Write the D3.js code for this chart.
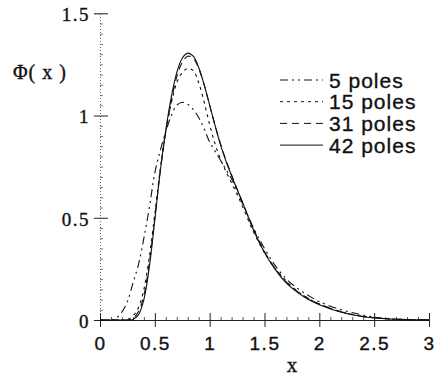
<!DOCTYPE html>
<html>
<head>
<meta charset="utf-8">
<script src="https://cdn.jsdelivr.net/npm/d3@7"></script>
<style>
  body { margin: 0; background: #fff; }
  svg { display: block; }
  .serif { font-family: "Liberation Serif", "DejaVu Serif", serif; }
  .sans { font-family: "Liberation Sans", Arial, sans-serif; }
  text { stroke: #111; stroke-width: 0.35px; }
</style>
</head>
<body>
<script>
// data
const xs = [0, 0.1, 0.15, 0.2, 0.25, 0.3, 0.35, 0.4, 0.45, 0.5, 0.55, 0.6, 0.65, 0.7, 0.75, 0.8, 0.85, 0.9, 0.95, 1.0,
  1.05, 1.1, 1.15, 1.2, 1.25, 1.3, 1.4, 1.5, 1.6, 1.7, 1.8, 1.9, 2.0, 2.2, 2.4, 2.6, 2.8, 3.0];

const poles5 = [0, 0, 0.01, 0.04, 0.09, 0.18, 0.27, 0.40, 0.55, 0.72, 0.83, 0.92, 1.0, 1.05, 1.065, 1.055, 1.03, 0.99, 0.935, 0.87,
  0.825, 0.78, 0.735, 0.69, 0.63, 0.57, 0.45, 0.35, 0.265, 0.20, 0.155, 0.12, 0.09, 0.05, 0.024, 0.007, 0.002, 0];
const poles15 = [0, 0, 0, 0, 0.003, 0.02, 0.06, 0.15, 0.31, 0.52, 0.74, 0.92, 1.06, 1.16, 1.21, 1.23, 1.22, 1.16, 1.065, 0.955,
  0.86, 0.785, 0.725, 0.67, 0.615, 0.555, 0.43, 0.33, 0.25, 0.19, 0.14, 0.105, 0.078, 0.04, 0.018, 0.007, 0.002, 0];
const poles31 = [0, 0, 0, 0, 0, 0.008, 0.04, 0.12, 0.28, 0.50, 0.73, 0.92, 1.07, 1.19, 1.26, 1.29, 1.28, 1.23, 1.15, 1.05,
  0.95, 0.86, 0.78, 0.71, 0.64, 0.575, 0.445, 0.335, 0.25, 0.185, 0.14, 0.105, 0.078, 0.04, 0.017, 0.007, 0.002, 0];
const poles42 = [0, 0, 0, 0, 0, 0.003, 0.025, 0.10, 0.26, 0.49, 0.73, 0.93, 1.09, 1.21, 1.28, 1.305, 1.29, 1.235, 1.15, 1.05,
  0.95, 0.855, 0.775, 0.705, 0.64, 0.575, 0.44, 0.33, 0.245, 0.18, 0.135, 0.10, 0.075, 0.038, 0.016, 0.006, 0.002, 0];

const seriesNames = ["5 poles", "15 poles", "31 poles", "42 poles"];
const seriesValues = [poles5, poles15, poles31, poles42];
const dashes = ["8,4,2,4,2,4", "3,4", "7,5", null];

const xTicks = [0, 0.5, 1, 1.5, 2, 2.5, 3];
const yTicks = [0, 0.5, 1, 1.5];

const w = 438;
const h = 379;

const x = d3.scaleLinear().domain([0, 3]).range([100, 429]);
const y = d3.scaleLinear().domain([0, 1.5]).range([320, 13.3]);

const svg = d3.select("body").append("svg").attr("width", w).attr("height", h);

// ---- y axis ----
const yMinor = d3.range(0, 1.5001, 0.05).filter((v) => Math.abs(v * 2 - Math.round(v * 2)) > 1e-6);

const yLeft = svg.append("g").attr("transform", "translate(100,0)")
  .call(d3.axisLeft(y).tickValues(yTicks).tickSize(6).tickPadding(4)
    .tickFormat((d) => d));
yLeft.select(".domain").attr("stroke", "#666").attr("stroke-dasharray", "1,2");
yLeft.selectAll(".tick line").attr("stroke", "#222");
yLeft.selectAll(".tick text")
  .attr("class", "serif")
  .attr("font-size", 19)
  .attr("letter-spacing", "1.5px")
  .attr("fill", "#111")
  .attr("dy", "0.38em");

const yRight = svg.append("g").attr("transform", "translate(100,0)")
  .call(d3.axisRight(y).tickValues(yTicks).tickSize(8).tickFormat(""));
yRight.select(".domain").remove();
yRight.selectAll(".tick line").attr("stroke", "#222");

const yMin = svg.append("g").attr("transform", "translate(100,0)")
  .call(d3.axisRight(y).tickValues(yMinor).tickSize(3).tickFormat(""));
yMin.select(".domain").remove();
yMin.selectAll(".tick line").attr("stroke", "#777");

// ---- x axis ----
const xMinor = d3.range(0, 3.0001, 0.1).filter((v) => Math.abs(v * 2 - Math.round(v * 2)) > 1e-6);

const xBottom = svg.append("g").attr("transform", "translate(0,320)")
  .call(d3.axisBottom(x).tickValues(xTicks).tickSize(7).tickPadding(10)
    .tickFormat((d) => d));
xBottom.select(".domain").attr("stroke", "#222");
xBottom.selectAll(".tick line").attr("stroke", "#222");
xBottom.selectAll(".tick text")
  .attr("class", "sans")
  .attr("font-size", 19)
  .attr("letter-spacing", "1.5px")
  .attr("fill", "#111");

const xTop = svg.append("g").attr("transform", "translate(0,320)")
  .call(d3.axisTop(x).tickValues(xTicks).tickSize(7).tickFormat(""));
xTop.select(".domain").remove();
xTop.selectAll(".tick line").attr("stroke", "#222");

const xMin = svg.append("g").attr("transform", "translate(0,320)")
  .call(d3.axisTop(x).tickValues(xMinor).tickSize(3).tickFormat(""));
xMin.select(".domain").remove();
xMin.selectAll(".tick line").attr("stroke", "#555");

// axis titles
svg.append("text")
  .attr("class", "serif")
  .attr("x", 13)
  .attr("y", 79)
  .attr("font-size", 20)
  .attr("letter-spacing", "1px")
  .attr("fill", "#111")
  .text("Φ( x )");

svg.append("text")
  .attr("class", "serif")
  .attr("x", x(1.75))
  .attr("y", 372)
  .attr("text-anchor", "middle")
  .attr("font-size", 21)
  .attr("fill", "#111")
  .text("x");

// ---- curves ----
const line = d3.line()
  .x((d) => x(d[0]))
  .y((d) => y(d[1]))
  .curve(d3.curveCatmullRom.alpha(0.5));

seriesValues.forEach(function (vals, i) {
  svg.append("path")
    .datum(xs.map((v, j) => [v, vals[j]]))
    .attr("fill", "none")
    .attr("stroke", "#111")
    .attr("stroke-width", 1.1)
    .attr("stroke-dasharray", dashes[i])
    .attr("d", line);
});

// ---- legend ----
const legend = svg.append("g");
seriesNames.forEach(function (name, i) {
  const ly = 80 + i * 21.7;
  legend.append("line")
    .attr("x1", 280).attr("x2", 323)
    .attr("y1", ly).attr("y2", ly)
    .attr("stroke", "#111")
    .attr("stroke-width", 1)
    .attr("stroke-dasharray", dashes[i]);
  legend.append("text")
    .attr("class", "sans")
    .attr("x", 329)
    .attr("y", ly + 7.5)
    .attr("font-size", 21)
    .attr("letter-spacing", "1px")
    .attr("fill", "#111")
    .text(name);
});
</script>
</body>
</html>
